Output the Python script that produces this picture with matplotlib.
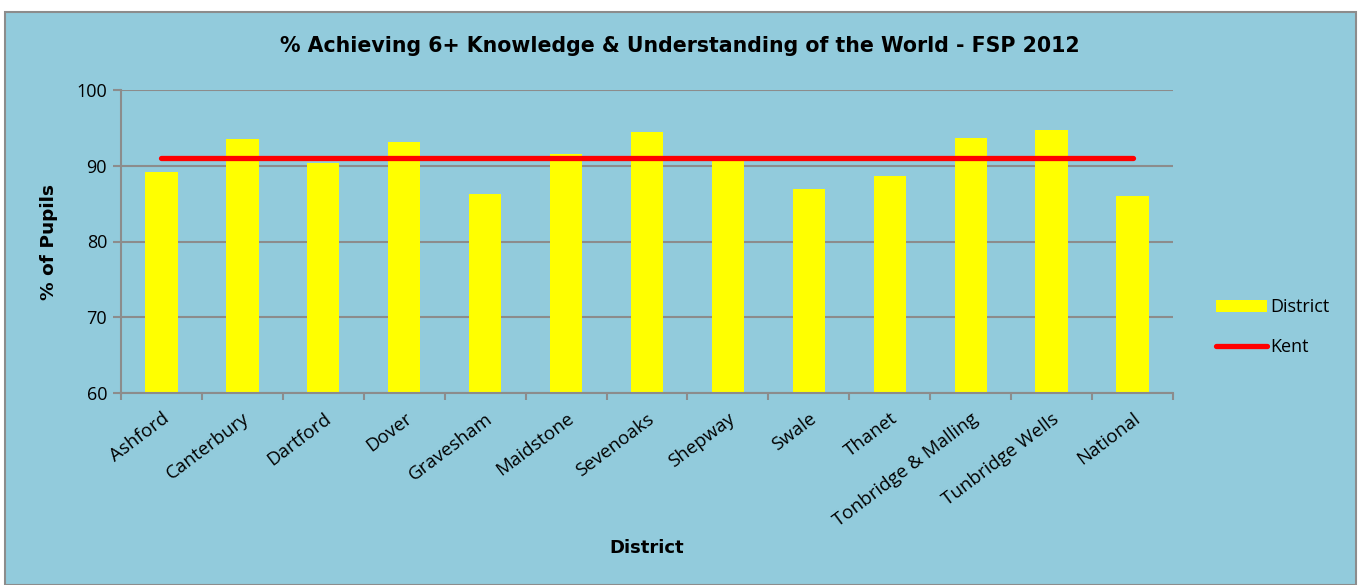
import matplotlib.pyplot as plt
from matplotlib.patches import Rectangle
from matplotlib.lines import Line2D

districts = ["Ashford", "Canterbury", "Dartford", "Dover", "Gravesham", "Maidstone",
             "Sevenoaks", "Shepway", "Swale", "Thanet", "Tonbridge & Malling",
             "Tunbridge Wells", "National"]
district_pct = [89.2, 93.5, 90.3, 93.2, 86.3, 91.6, 94.5, 90.9, 86.9, 88.6, 93.6, 94.7, 86.0]
kent_pct = [91.0] * len(districts)

bg = "#92CBDC"
grey = "#8C8C8C"
plt.rcParams['font.family'] = ['Open Sans', 'DejaVu Sans']
bold_font = dict(family="DejaVu Sans", fontweight="bold")

fig = plt.figure(figsize=(13.6, 5.85), dpi=100)
fig.patch.set_facecolor("white")
W, H = 1360, 585
fig.patches.append(Rectangle((5 / W, 0), 1351 / W, 573 / H, transform=fig.transFigure,
                             facecolor=bg, edgecolor=grey, linewidth=1.5, zorder=-1))

ax = fig.add_axes([121 / W, 1 - 393 / H, (1173 - 121) / W, (393 - 90) / H])
ax.set_facecolor(bg)
x = list(range(len(districts)))
ax.bar(x, district_pct, width=0.4, color="#FFFF00", zorder=2, label="District")
ax.plot(x, kent_pct, color="#FF0000", linewidth=3.8, solid_capstyle="round", zorder=3, label="Kent")

ax.set_xlim(-0.5, len(districts) - 0.5)
ax.set_ylim(60, 100)
ax.set_yticks([60, 70, 80, 90, 100])
ax.yaxis.grid(True, color=grey, linewidth=1.5, zorder=1)
ax.set_axisbelow(True)
for s in ["top", "right"]:
    ax.spines[s].set_visible(False)
for s in ["left", "bottom"]:
    ax.spines[s].set_color(grey)
    ax.spines[s].set_linewidth(1.5)

# category boundaries carry the ticks, names sit on the centres
ax.set_xticks([i - 0.5 for i in range(len(districts) + 1)], minor=False)
ax.set_xticklabels([])
ax.set_xticks(x, minor=True)
ax.set_xticklabels(districts, minor=True, rotation=37, ha="right", rotation_mode="anchor", fontsize=13.5)
ax.tick_params(axis="x", which="major", length=5, color=grey, width=1.5)
ax.tick_params(axis="x", which="minor", length=0, pad=12)
ax.tick_params(axis="y", length=6, color=grey, width=1.5, labelsize=13, pad=4)

ax.set_ylabel("% of Pupils", fontsize=13.3, labelpad=13, **bold_font)
fig.text(647 / W, 1 - 548 / H, "District", ha="center", va="center", fontsize=13, **bold_font)
fig.text(680 / W, 1 - 46 / H, "% Achieving 6+ Knowledge & Understanding of the World - FSP 2012",
         ha="center", va="center", fontsize=14.8, **bold_font)

handles = [Rectangle((0, 0), 1, 1, facecolor="#FFFF00"),
           Line2D([0], [0], color="#FF0000", linewidth=3.8, solid_capstyle="round")]
fig.legend(handles, ["District", "Kent"], loc="center left", bbox_to_anchor=(1200 / W, 1 - 327 / H),
           frameon=False, fontsize=13, handlelength=2.8, handletextpad=0.2, labelspacing=1.2)

fig.savefig("out.png", dpi=100, facecolor=fig.get_facecolor())
